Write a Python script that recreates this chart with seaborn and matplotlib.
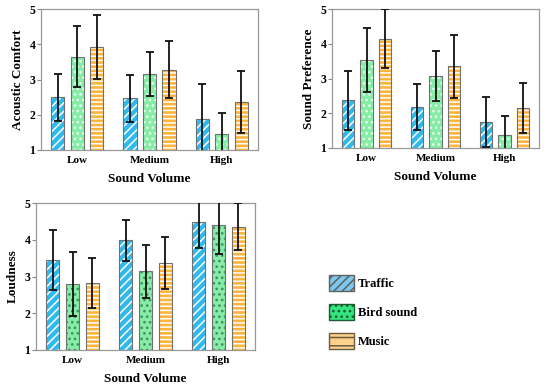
import numpy as np
import pandas as pd
import matplotlib
import matplotlib.pyplot as plt
from matplotlib.patches import Patch, Rectangle
import seaborn as sns

volumes = ['Low', 'Medium', 'High']
sources = ['Traffic', 'Bird sound', 'Music']

# means / standard deviations, rows = source, cols = volume
comfort_mean = [[2.50, 2.47, 1.87], [3.65, 3.16, 1.46], [3.93, 3.28, 2.37]]
comfort_sd = [[0.67, 0.67, 0.99], [0.86, 0.63, 0.58], [0.91, 0.81, 0.88]]
pref_mean = [[2.37, 2.18, 1.74], [3.53, 3.06, 1.37], [4.15, 3.35, 2.15]]
pref_sd = [[0.84, 0.65, 0.72], [0.91, 0.72, 0.56], [0.84, 0.90, 0.73]]
loud_mean = [[3.45, 3.98, 4.48], [2.80, 3.14, 4.39], [2.83, 3.36, 4.36]]
loud_sd = [[0.81, 0.57, 0.71], [0.87, 0.73, 0.78], [0.68, 0.71, 0.64]]

colors = ['#2fb9ec', '#86eca6', '#fdb33c']
hatches = ['////', '...', '----']

plt.rcParams['font.family'] = ['Liberation Serif', 'DejaVu Serif']
plt.rcParams['font.weight'] = 'bold'
plt.rcParams['hatch.linewidth'] = 1.1


def panel(ax, means, sds, ylabel, dot_color='#e8fff0'):
    df = pd.DataFrame([(v, s, means[i][j]) for i, s in enumerate(sources)
                       for j, v in enumerate(volumes)],
                      columns=['volume', 'source', 'value'])
    sns.barplot(data=df, x='volume', y='value', hue='source', order=volumes,
                hue_order=sources, palette=colors, width=0.81, gap=0.33,
                errorbar=None, legend=False, saturation=1, ax=ax,
                edgecolor='white', linewidth=0)
    bars = list(ax.patches)
    flat_sd = [sds[i][j] for i in range(3) for j in range(3)]
    for k, (bar, sd) in enumerate(zip(bars, flat_sd)):
        i = k // 3
        bar.set_hatch(hatches[i])
        bar.set_edgecolor(dot_color if i == 1 else 'white')
        ax.add_patch(Rectangle(bar.get_xy(), bar.get_width(), bar.get_height(),
                               fill=False, edgecolor='#707070', lw=0.8, zorder=3))
        xc = bar.get_x() + bar.get_width() / 2
        ax.errorbar(xc, bar.get_height(), yerr=sd, color='#111111', lw=1.3,
                    capsize=3, capthick=1.3, zorder=4)
    ax.set_ylim(1, 5)
    ax.set_xlim(-0.5, 2.5)
    ax.set_yticks([1, 2, 3, 4, 5])
    ax.set_xlabel('Sound Volume', fontsize=9.5, fontweight='bold', labelpad=6)
    ax.set_ylabel(ylabel, fontsize=9.5, fontweight='bold', labelpad=4)
    ax.tick_params(axis='x', length=0, labelsize=8, pad=4)
    ax.tick_params(axis='y', length=3, color='#888888', labelsize=8.5, pad=1)
    for sp in ax.spines.values():
        sp.set_color('#999999')
        sp.set_linewidth(0.9)


fig = plt.figure(figsize=(5.5, 3.87), dpi=100)
W, H = 550, 387
ax1 = fig.add_axes([41 / W, 1 - 150 / H, 217 / W, 141 / H])
ax2 = fig.add_axes([332 / W, 1 - 148 / H, 207 / W, 139 / H])
ax3 = fig.add_axes([36 / W, 1 - 350 / H, 219 / W, 147 / H])

panel(ax1, comfort_mean, comfort_sd, 'Acoustic Comfort')
panel(ax2, pref_mean, pref_sd, 'Sound Preference')
panel(ax3, loud_mean, loud_sd, 'Loudness', dot_color='#3f8f5f')

handles = [Patch(facecolor='#7cc8ee', edgecolor='#606060', hatch='////'),
           Patch(facecolor='#34e57f', edgecolor='#1a5a30', hatch='...'),
           Patch(facecolor='#fdd18a', edgecolor='#6a5a40', hatch='--')]
leg = fig.legend(handles, sources, loc='upper left', bbox_to_anchor=(318 / W, 1 - 264 / H),
                 frameon=False, prop={'size': 9, 'weight': 'bold'},
                 handlelength=2.0, handleheight=1.5, labelspacing=1.1, handletextpad=0.3)

fig.savefig('out.png', dpi=100)
